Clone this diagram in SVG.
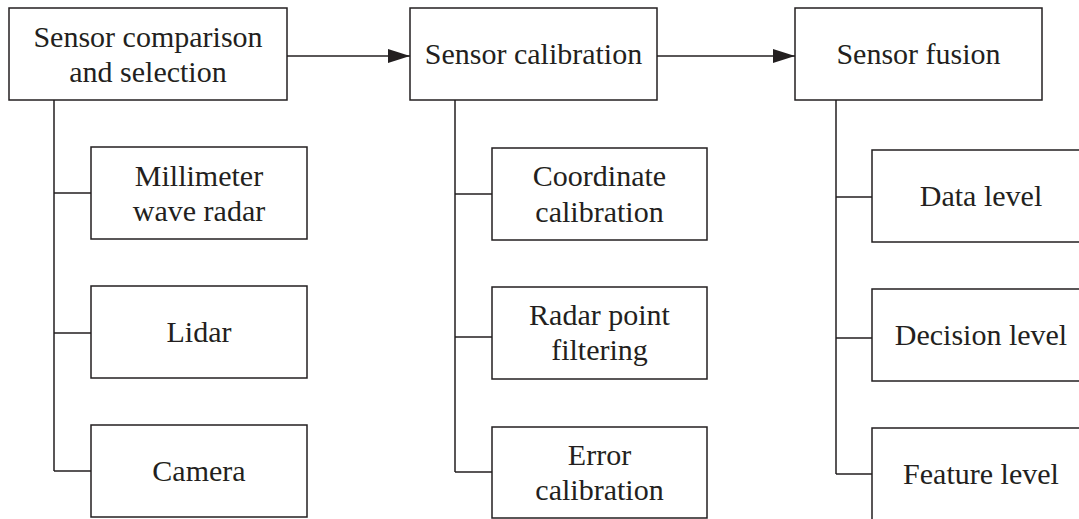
<svg xmlns="http://www.w3.org/2000/svg" width="1079" height="519" viewBox="0 0 1079 519">
<style>
rect.box{fill:#fff;stroke:#231f20;stroke-width:1.5}
.c path{fill:none;stroke:#231f20;stroke-width:1.5}
text{font-family:"Liberation Serif","Times New Roman",serif;font-size:30px;fill:#231f20;text-anchor:middle}
</style>
<defs>
<marker id="ah" markerUnits="userSpaceOnUse" markerWidth="22" markerHeight="14" refX="22" refY="7" orient="auto">
<path d="M0,0 L22,7 L0,14 Z" fill="#231f20"/>
</marker>
</defs>
<rect width="1079" height="519" fill="#fff"/>
<g class="c" id="connectors">
<path d="M287,56 H410" marker-end="url(#ah)"/>
<path d="M657,56 H795" marker-end="url(#ah)"/>
<path d="M54,100 V471 M54,193 H91 M54,333 H91 M54,471 H91"/>
<path d="M455,100 V472 M455,194 H492 M455,337 H492 M455,472 H492"/>
<path d="M836,100 V474 M836,197 H872 M836,338 H872 M836,474 H872"/>
</g>
<g id="n1"><rect class="box" x="9" y="8" width="278" height="92"/><text x="148" y="47">Sensor comparison</text><text x="148" y="82">and selection</text></g>
<g id="n2"><rect class="box" x="410" y="8" width="247" height="92"/><text x="533.5" y="64">Sensor calibration</text></g>
<g id="n3"><rect class="box" x="795" y="8" width="247" height="92"/><text x="918.5" y="64">Sensor fusion</text></g>
<g id="n4"><rect class="box" x="91" y="147" width="216" height="92"/><text x="199" y="186">Millimeter</text><text x="199" y="221">wave radar</text></g>
<g id="n5"><rect class="box" x="91" y="286" width="216" height="92"/><text x="199" y="342">Lidar</text></g>
<g id="n6"><rect class="box" x="91" y="425" width="216" height="92"/><text x="199" y="481">Camera</text></g>
<g id="n7"><rect class="box" x="492" y="148" width="215" height="92"/><text x="599.5" y="186">Coordinate</text><text x="599.5" y="222">calibration</text></g>
<g id="n8"><rect class="box" x="492" y="287" width="215" height="92"/><text x="599.5" y="325">Radar point</text><text x="599.5" y="360">filtering</text></g>
<g id="n9"><rect class="box" x="492" y="427" width="215" height="91"/><text x="599.5" y="465">Error</text><text x="599.5" y="500">calibration</text></g>
<g id="n10"><rect class="box" x="872" y="150" width="218" height="92"/><text x="981" y="206">Data level</text></g>
<g id="n11"><rect class="box" x="872" y="289" width="218" height="92"/><text x="981" y="345">Decision level</text></g>
<g id="n12"><rect class="box" x="872" y="428" width="218" height="100"/><text x="981" y="484">Feature level</text></g>
</svg>
